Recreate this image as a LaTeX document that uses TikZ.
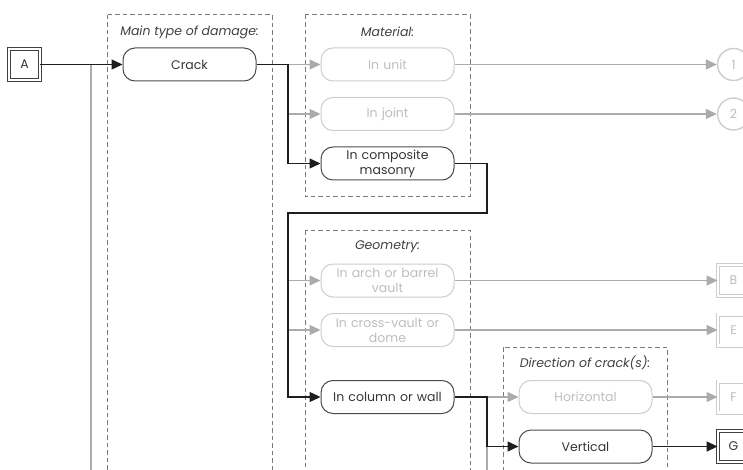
\documentclass[tikz,border=0pt]{standalone}
\usepackage{fontspec}
\setmainfont{Poppins}
\usetikzlibrary{arrows.meta, positioning}

\definecolor{ink}{HTML}{1E1E1E}
\definecolor{faint}{HTML}{ABABAB}
\definecolor{pale}{HTML}{CDCDCD}
\definecolor{frame}{HTML}{7A7A7A}

\begin{document}
\begin{tikzpicture}[x=1pt, y=-1pt, node distance=49.5pt,
    font=\fontsize{12.5}{15}\selectfont,
    >={Triangle[length=11pt, width=10pt]},
    active/.style={draw=ink!80, rounded corners=12pt, minimum width=133pt, minimum height=33pt, text width=124pt, align=center, inner sep=0pt, line width=1pt, text=ink!90},
    inactive/.style={active, draw=pale, text=pale!92!black},
    termon/.style={draw=ink!85, double=white, double distance=2.2pt, line width=0.9pt, minimum size=31pt, inner sep=0pt, text=ink!90},
    termoff/.style={termon, draw=pale, text=pale!92!black},
    endpoint/.style={circle, draw=pale, line width=1.4pt, minimum size=32pt, inner sep=0pt, text=pale!92!black},
    group/.style={draw=frame, dash pattern=on 4.5pt off 3pt, line width=1pt},
    title/.style={font=\fontsize{12.5}{15}\selectfont\itshape, text=ink!85},
    live/.style={draw=ink, line width=1.4pt},
    dead/.style={draw=faint, line width=1.2pt}]
    \useasboundingbox (0,0) rectangle (743,470);
    \clip (0,0) rectangle (743,470);

    \draw[group] (107,15) rectangle (272,490);
    \draw[group] (305,15) rectangle (470,197);
    \draw[group] (305,230) rectangle (470,490);
    \draw[group] (503,347) rectangle (667,490);
    \node[title] (damage) at (189.5,32) {Main type of damage:};
    \node[title] (material) at (387.5,32) {Material:};
    \node[title] (geometry) at (387.5,247) {Geometry:};
    \node[title] (direction) at (585,363) {Direction of crack(s):};

    \node[termon] (a) at (24.5,64.5) {A};
    \node[active] (crack) at (189.5,64.5) {Crack};
    \node[inactive] (unit) at (387.5,64.5) {In unit};
    \node[inactive, below of=unit] (joint) {In joint};
    \node[active, below of=joint] (composite) {In composite\\masonry};
    \node[inactive] (arch) at (387.5,280.5) {In arch or barrel\\vault};
    \node[inactive, below of=arch] (cross) {In cross-vault or\\dome};
    \node[active] (column) at (387.5,397) {In column or wall};
    \node[inactive] (horizontal) at (585.5,397) {Horizontal};
    \node[active, below of=horizontal] (vertical) {Vertical};

    \node[endpoint] (one) at (733.5,64.5) {1};
    \node[endpoint, below of=one] (two) {2};
    \node[termoff] (b) at (733.5,280.5) {B};
    \node[termoff, below of=b] (e) {E};
    \node[termoff] (f) at (733.5,397) {F};
    \node[termon, below of=f] (g) {G};

    \coordinate (s0) at (91,64.5);
    \coordinate (s1) at (288,64.5);
    \coordinate (s2) at (487,213);
    \coordinate (low) at (0,490);

    \draw[dead] (s0) -- (s0 |- low);
    \draw[dead, ->] (s1) -- (unit);
    \draw[dead, ->] (s1 |- joint) -- (joint);
    \draw[dead, ->] (unit) -- (one);
    \draw[dead, ->] (joint) -- (two);
    \draw[dead, ->] (s1 |- arch) -- (arch);
    \draw[dead, ->] (s1 |- cross) -- (cross);
    \draw[dead, ->] (arch) -- (b);
    \draw[dead, ->] (cross) -- (e);
    \draw[dead, ->] (s2 |- column) -- (horizontal);
    \draw[dead] (s2 |- vertical) -- (s2 |- low);
    \draw[dead, ->] (horizontal) -- (f);

    \draw[live, ->] (a) -- (crack);
    \draw[live, ->] (crack) -- (s1) |- (composite);
    \draw[live, ->] (composite) -| (s2) -- (s2 -| s1) |- (column);
    \draw[live, ->] (column) -- (s2 |- column) |- (vertical);
    \draw[live, ->] (vertical) -- (g);
\end{tikzpicture}
\end{document}
